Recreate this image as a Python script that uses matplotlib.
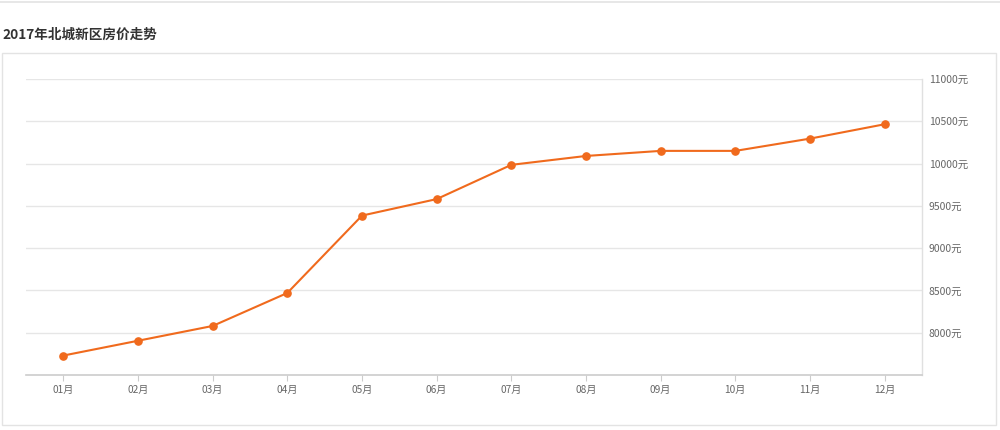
import matplotlib.pyplot as plt
from matplotlib.patches import Rectangle
from matplotlib.lines import Line2D

plt.rcParams['font.family'] = ['Noto Sans CJK SC', 'DejaVu Sans']

months = ['01月', '02月', '03月', '04月', '05月', '06月',
          '07月', '08月', '09月', '10月', '11月', '12月']
prices = [7730, 7905, 8080, 8470, 9385, 9580,
          9985, 10090, 10150, 10150, 10295, 10465]
yticks = [8000, 8500, 9000, 9500, 10000, 10500, 11000]
ylabels = [f'{v}元' for v in yticks]

W, H = 1000, 430
fig = plt.figure(figsize=(W / 100, H / 100), dpi=100)

# outer page decorations
fig.add_artist(Line2D([0, 1], [1 - 2 / H, 1 - 2 / H], color='#e3e3e3', lw=1.2))
fig.add_artist(Rectangle((2 / W, 1 - 425 / H), 994 / W, 372 / H,
                         fill=False, edgecolor='#e3e3e3', lw=1.0))
fig.text(2 / W, 1 - 35 / H, '2017年北城新区房价走势', fontsize=9.8,
         fontweight='bold', color='#333333', va='center', ha='left')

ax = fig.add_axes([26 / W, 1 - 375 / H, (922 - 26) / W, (375 - 79) / H])
x = range(len(months))
ax.plot(x, prices, color='#f06a1d', lw=1.5, marker='o', ms=5.2,
        markerfacecolor='#f06a1d', markeredgecolor='#f06a1d', zorder=3)

ax.set_xlim(-0.5, len(months) - 0.5)
ax.set_ylim(7500, 11000)
ax.set_xticks(list(x))
ax.set_xticklabels(months, fontsize=7.3, color='#666666')
ax.yaxis.tick_right()
ax.set_yticks(yticks)
ax.set_yticklabels(ylabels, fontsize=7.5, color='#666666')
ax.tick_params(axis='y', length=0, pad=5)
ax.tick_params(axis='x', length=4, color='#cccccc', pad=3)
ax.grid(axis='y', color='#e6e6e6', lw=1.0)
ax.set_axisbelow(True)

for s in ['top', 'left']:
    ax.spines[s].set_visible(False)
ax.spines['bottom'].set_color('#cccccc')
ax.spines['bottom'].set_linewidth(1.2)
ax.spines['right'].set_color('#e0e0e0')
ax.spines['right'].set_linewidth(1.0)

fig.savefig('out.png', dpi=100)
